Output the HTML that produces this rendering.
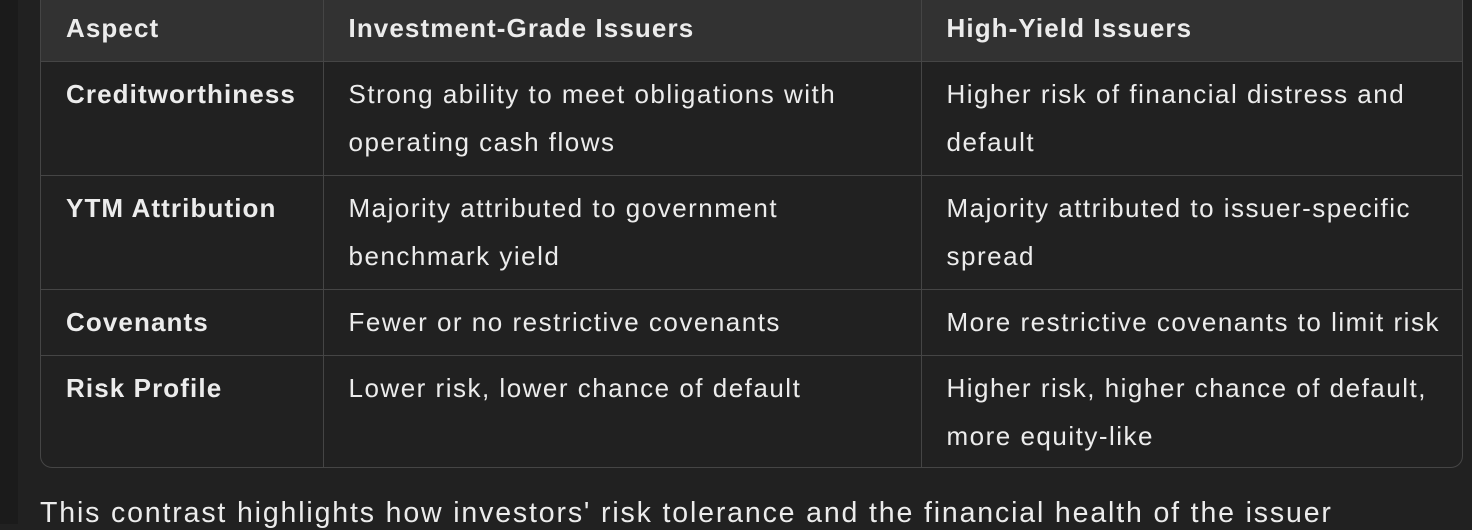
<!DOCTYPE html>
<html><head><meta charset="utf-8">
<style>
html,body{margin:0;padding:0;}
body{width:1472px;height:524px;overflow:hidden;background:#212121;position:relative;font-family:"Liberation Sans",sans-serif;color:#ececec;}
.side{position:absolute;left:0;top:0;width:18px;height:524px;background:#1b1b1b;}
.wrap{position:absolute;left:40px;top:-13px;width:1421px;height:479px;border:1.5px solid #454545;border-radius:12px;overflow:hidden;}
table{border-collapse:collapse;width:100%;font-size:26px;letter-spacing:1.5px;table-layout:fixed;}
td,th{border:1.5px solid #454545;text-align:left;vertical-align:top;padding:0 6px 0 25px;line-height:48px;white-space:nowrap;overflow:hidden;box-sizing:border-box;}
tr:first-child th{border-top:none;}
td:first-child,th:first-child{border-left:none;}
td:last-child,th:last-child{border-right:none;}
tr:last-child td{border-bottom:none;}
th{background:#323232;font-weight:bold;height:73px;padding-top:16px;letter-spacing:1.1px;}
td{padding-top:8px;}
td.b{font-weight:bold;letter-spacing:1.1px;}
.foot{position:absolute;left:40px;top:497px;font-size:28.5px;letter-spacing:1.85px;white-space:nowrap;}
</style></head><body>
<div class="side"></div>
<div class="wrap">
<table>
<colgroup><col style="width:282px"><col style="width:598px"><col></colgroup>
<tr><th>Aspect</th><th>Investment-Grade Issuers</th><th>High-Yield Issuers</th></tr>
<tr style="height:114px"><td class="b">Creditworthiness</td><td>Strong ability to meet obligations with<br>operating cash flows</td><td>Higher risk of financial distress and<br>default</td></tr>
<tr style="height:114px"><td class="b">YTM Attribution</td><td>Majority attributed to government<br>benchmark yield</td><td>Majority attributed to issuer-specific<br>spread</td></tr>
<tr style="height:66px"><td class="b">Covenants</td><td>Fewer or no restrictive covenants</td><td>More restrictive covenants to limit risk</td></tr>
<tr style="height:113px"><td class="b">Risk Profile</td><td>Lower risk, lower chance of default</td><td>Higher risk, higher chance of default,<br>more equity-like</td></tr>
</table>
</div>
<div class="foot">This contrast highlights how investors' risk tolerance and the financial health of the issuer</div>
</body></html>
